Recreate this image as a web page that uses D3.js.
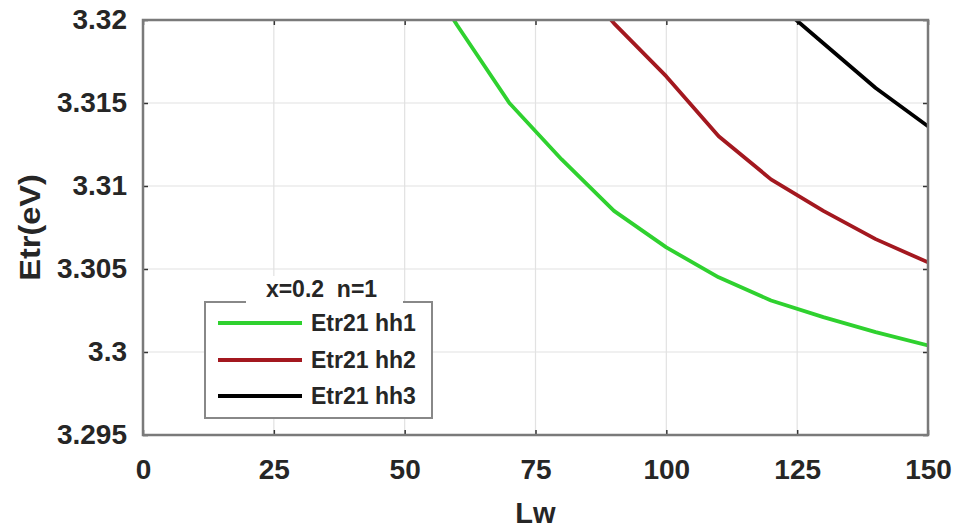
<!DOCTYPE html>
<html><head><meta charset="utf-8">
<script src="https://cdn.jsdelivr.net/npm/d3@7"></script>
<style>
html,body{margin:0;padding:0;background:#fff;}
svg text{font-family:"Liberation Sans",Arial,sans-serif;font-weight:bold;fill:#262626;}
</style></head>
<body><svg id="c" width="956" height="530"></svg>
<script>
// ---- data ----
const lwGreen = [55, 60, 70, 80, 90, 100, 110, 120, 130, 140, 150];
const etrGreen = [3.3222, 3.3197, 3.3150, 3.3116, 3.3085, 3.3063, 3.3045, 3.3031, 3.3021, 3.3012, 3.3004];
const lwRed = [80, 90, 100, 110, 120, 130, 140, 150];
const etrRed = [3.3235, 3.3198, 3.3166, 3.3130, 3.3104, 3.3085, 3.3068, 3.3054];
const lwBlack = [120, 130, 140, 150];
const etrBlack = [3.3213, 3.3186, 3.3159, 3.3136];
const seriesNames = ["Etr21 hh1", "Etr21 hh2", "Etr21 hh3"];
const seriesColors = ["#2fd12f", "#a3181f", "#000000"];
const xTicks = [0, 25, 50, 75, 100, 125, 150];
const yTicks = [3.295, 3.3, 3.305, 3.31, 3.315, 3.32];
const yTickLabels = ["3.295", "3.3", "3.305", "3.31", "3.315", "3.32"];
const legendTitle = "x=0.2  n=1";
const xLabel = "Lw", yLabel = "Etr(eV)";

// ---- layout ----
const L = 143, R = 928, T = 20, B = 435;
const svg = d3.select("#c");
const x = d3.scaleLinear().domain([0, 150]).range([L, R]);
const y = d3.scaleLinear().domain([3.295, 3.32]).range([B, T]);

// grid
const g = svg.append("g");
g.selectAll(".gx").data(xTicks.slice(1, -1)).enter().append("line")
  .attr("x1", d => x(d)).attr("x2", d => x(d)).attr("y1", T).attr("y2", B)
  .attr("stroke", "#e2e2e2").attr("stroke-width", 1.2);
g.selectAll(".gy").data(yTicks.slice(1, -1)).enter().append("line")
  .attr("x1", L).attr("x2", R).attr("y1", d => y(d)).attr("y2", d => y(d))
  .attr("stroke", "#e2e2e2").attr("stroke-width", 1.2);

// axes
const tickLen = 5;
const axB = d3.axisBottom(x).tickValues(xTicks).tickSize(-tickLen).tickPadding(24).tickFormat(d3.format("d"));
const axT = d3.axisTop(x).tickValues(xTicks).tickSize(-tickLen).tickFormat("");
const axL = d3.axisLeft(y).tickValues(yTicks).tickSize(-tickLen).tickPadding(16).tickFormat((d, i) => yTickLabels[i]);
const axR = d3.axisRight(y).tickValues(yTicks).tickSize(-tickLen).tickFormat("");
function styleAx(sel) {
  sel.select(".domain").remove();
  sel.selectAll(".tick line").attr("stroke", "#333").attr("stroke-width", 1.5);
  sel.selectAll("text").attr("font-size", 28).attr("fill", "#262626")
     .attr("font-family", "Liberation Sans, Arial, sans-serif").attr("font-weight", "bold");
}
svg.append("g").attr("transform", `translate(0,${B})`).call(axB).call(styleAx);
svg.append("g").attr("transform", `translate(0,${T})`).call(axT).call(styleAx);
svg.append("g").attr("transform", `translate(${L},0)`).call(axL).call(styleAx);
svg.append("g").attr("transform", `translate(${R},0)`).call(axR).call(styleAx);

// clip
svg.append("clipPath").attr("id", "clip").append("rect")
  .attr("x", L).attr("y", T).attr("width", R - L).attr("height", B - T);

const line = d3.line().x(d => x(d[0])).y(d => y(d[1]));
const series = [
  d3.zip(lwGreen, etrGreen),
  d3.zip(lwRed, etrRed),
  d3.zip(lwBlack, etrBlack)
];
svg.append("g").attr("clip-path", "url(#clip)").selectAll("path").data(series).enter()
  .append("path").attr("d", line).attr("fill", "none")
  .attr("stroke", (d, i) => seriesColors[i]).attr("stroke-width", 3.8)
  .attr("stroke-linejoin", "round");

// box
svg.append("rect").attr("x", L).attr("y", T).attr("width", R - L).attr("height", B - T)
  .attr("fill", "none").attr("stroke", "#7a7a7a").attr("stroke-width", 2.5);

// axis labels
svg.append("text").attr("x", (L + R) / 2).attr("y", 523).attr("text-anchor", "middle")
  .attr("font-size", 29).text(xLabel);
svg.append("text").attr("transform", `translate(40,${(T + B) / 2}) rotate(-90) scale(1.12,1)`)
  .attr("text-anchor", "middle").attr("font-size", 29).text(yLabel);

// legend
const lg = svg.append("g");
const lx0 = 205, lx1 = 432, ly0 = 302, ly1 = 418;
lg.append("rect").attr("x", lx0).attr("y", ly0).attr("width", lx1 - lx0).attr("height", ly1 - ly0)
  .attr("fill", "#fff").attr("stroke", "#888").attr("stroke-width", 2);
lg.append("rect").attr("x", 246).attr("y", ly0 - 3).attr("width", 157).attr("height", 6).attr("fill", "#fff");
lg.append("rect").attr("x", 246).attr("y", 276).attr("width", 157).attr("height", 24).attr("fill", "#fff");
lg.append("text").attr("x", (lx0 + lx1) / 2 + 3).attr("y", 297).attr("text-anchor", "middle")
  .attr("font-size", 23).attr("xml:space", "preserve").style("white-space", "pre").text(legendTitle);
const rowY = [323, 360, 396];
seriesNames.forEach((name, i) => {
  lg.append("line").attr("x1", 218).attr("x2", 302).attr("y1", rowY[i]).attr("y2", rowY[i])
    .attr("stroke", seriesColors[i]).attr("stroke-width", 3.8);
  lg.append("text").attr("x", 311).attr("y", rowY[i]).attr("dy", "0.36em")
    .attr("font-size", 23).text(name);
});
</script></body></html>
